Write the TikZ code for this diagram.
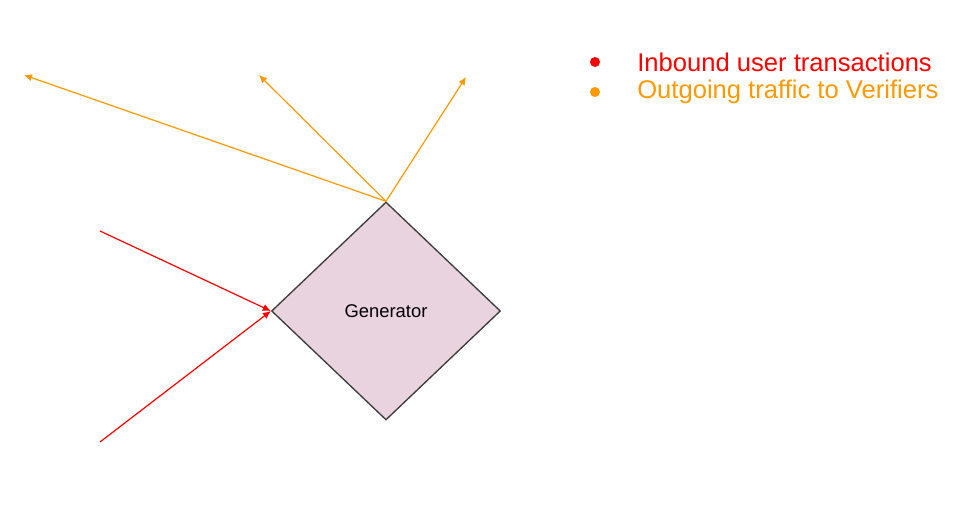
\documentclass[tikz,border=0pt]{standalone}
\usepackage{fontspec}
\setmainfont{Liberation Sans}
\usetikzlibrary{shapes.geometric,arrows.meta}
\definecolor{inred}{HTML}{FF0000}
\definecolor{outorange}{HTML}{FF9900}
\definecolor{genfill}{HTML}{E9D3DE}
\definecolor{genline}{HTML}{3C3C3C}
\begin{document}
\begin{tikzpicture}[x=0.75pt, y=-0.75pt,
  gennode/.style={diamond, draw=genline, fill=genfill, line width=1pt,
               minimum width=171.75pt, minimum height=163.5pt, inner sep=0pt,
               font=\fontsize{13.8}{15}\selectfont},
  inflow/.style={draw=inred, line width=0.9pt, -{Latex[length=6pt,width=5.5pt]}},
  outflow/.style={draw=outorange, line width=0.9pt, -{Latex[length=6pt,width=5.5pt]}},
  bullet/.style={circle, fill=#1, inner sep=0pt, minimum size=7.5pt},
  legend/.style={anchor=west, inner sep=0pt, text=#1,
               font=\fontsize{19.2}{21}\selectfont}
]
  \useasboundingbox (0,0) rectangle (958,530);
  \node[gennode] (gen) at (386,311) {Generator};
  % outgoing ends
  \coordinate (ver1) at (24,75);
  \coordinate (ver2) at (259,75);
  \coordinate (ver3) at (466,77);
  % inbound starts
  \coordinate (usr1) at (100,231);
  \coordinate (usr2) at (100,442);
  \draw[outflow] (gen.north) -- (ver1);
  \draw[outflow] (gen.north) -- (ver2);
  \draw[outflow] (gen.north) -- (ver3);
  \draw[inflow] (usr1) -- (gen.west);
  \draw[inflow] (usr2) -- (gen.west);
  % legend
  \node[bullet=inred]      (dotin)  at (595,62) {};
  \node[bullet=outorange]  (dotout) at (595,92) {};
  \node[legend=inred]      (labin)  at (637,62) {Inbound user transactions};
  \node[legend=outorange]  (labout) at (637,92) {Outgoing traffic to Verifiers};
\end{tikzpicture}
\end{document}
